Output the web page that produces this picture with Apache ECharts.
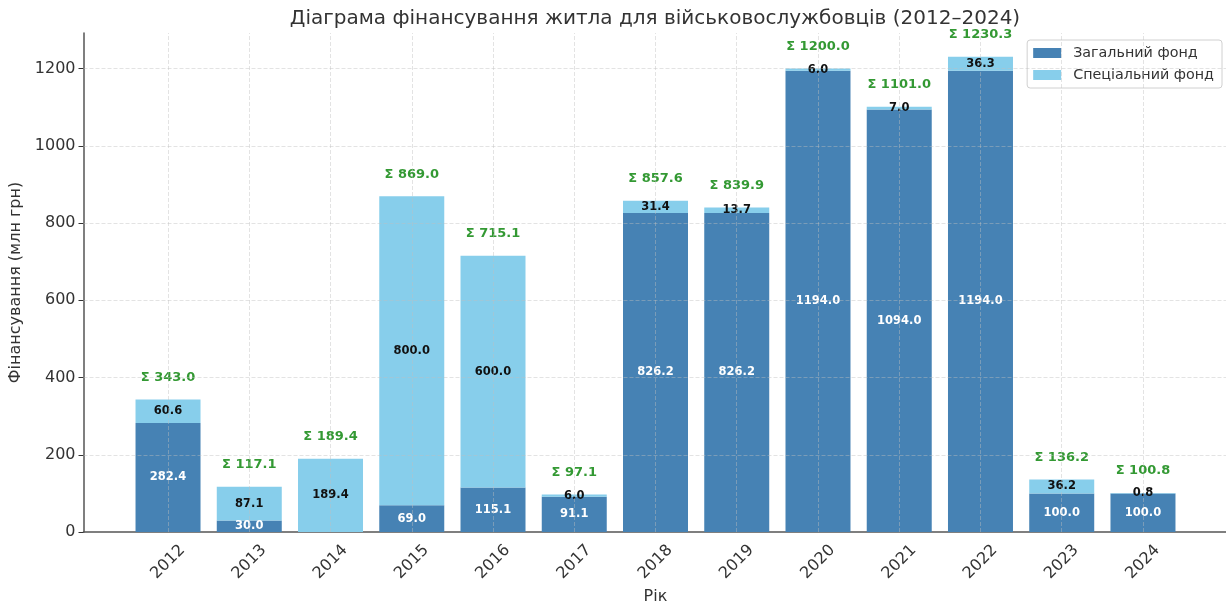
<!DOCTYPE html>
<html><head><meta charset="utf-8">
<script src="https://cdn.jsdelivr.net/npm/echarts@6/dist/echarts.min.js"></script>
<style>html,body{margin:0;padding:0;background:#fff}#c{width:1226px;height:601px}</style>
</head><body><div id="c"></div>
<script>
const years = ['2012','2013','2014','2015','2016','2017','2018','2019','2020','2021','2022','2023','2024'];
const generalFund = [282.4, 30.0, 0, 69.0, 115.1, 91.1, 826.2, 826.2, 1194.0, 1094.0, 1194.0, 100.0, 100.0];
const specialFund = [60.6, 87.1, 189.4, 800.0, 600.0, 6.0, 31.4, 13.7, 6.0, 7.0, 36.3, 36.2, 0.8];
const yTicks = [0, 200, 400, 600, 800, 1000, 1200];

const FONT = 'DejaVu Sans';
const totals = years.map((_, i) => Math.round((generalFund[i] + specialFund[i]) * 10) / 10);
const gridStyle = {type: [4, 2], color: 'rgba(190,190,190,0.55)', width: 0.8};
const YMAX = 1292;

const chart = echarts.init(document.getElementById('c'), null, {renderer: 'canvas'});
chart.setOption({
  animation: false,
  backgroundColor: '#fff',
  textStyle: {fontFamily: FONT},
  title: {
    text: 'Діаграма фінансування житла для військовослужбовців (2012–2024)',
    left: 655, textAlign: 'center', top: 9, padding: 0,
    textStyle: {fontFamily: FONT, fontSize: 20, fontWeight: 'normal', color: '#333'}
  },
  legend: {
    orient: 'vertical', right: 4, top: 40,
    data: ['Загальний фонд', 'Спеціальний фонд'],
    itemWidth: 28, itemHeight: 10, itemGap: 8,
    padding: [6, 8, 6, 6],
    borderColor: '#d0d0d0', borderWidth: 1, borderRadius: 3, backgroundColor: '#fff',
    icon: 'rect',
    textStyle: {fontFamily: FONT, fontSize: 14.3, color: '#333', padding: [0, 0, 0, 7]}
  },
  grid: [
    {left: 127.4, right: 42.4, top: 33, bottom: 69, containLabel: false, outerBoundsMode: 'none'},
    {left: 83.5, right: -1.5, top: 33, bottom: 69, containLabel: false, outerBoundsMode: 'none'}
  ],
  xAxis: [
    {
      type: 'category', gridIndex: 0, data: years, boundaryGap: true,
      name: 'Рік', nameLocation: 'middle', nameGap: 43,
      nameTextStyle: {fontFamily: FONT, fontSize: 16, color: '#333'},
      axisLine: {show: false},
      axisTick: {show: true, inside: true, length: 4, alignWithLabel: true, lineStyle: {color: '#333'}},
      axisLabel: {
        rotate: 45, align: 'center', verticalAlign: 'middle', margin: 30, interval: 0,
        fontFamily: FONT, fontSize: 16, color: '#333'
      },
      splitLine: {show: false}
    },
    {
      type: 'value', gridIndex: 1, min: 0, max: 1,
      axisLine: {show: true, onZero: false, lineStyle: {color: '#555', width: 1.5}},
      axisTick: {show: false}, axisLabel: {show: false}, splitLine: {show: false}
    }
  ],
  yAxis: [
    {
      type: 'value', gridIndex: 0, min: 0, max: YMAX, offset: 43.9,
      name: 'Фінансування (млн грн)', nameLocation: 'middle', nameGap: 55,
      nameTextStyle: {fontFamily: FONT, fontSize: 16, color: '#333'},
      axisLine: {show: true, onZero: false, lineStyle: {color: '#555', width: 1.5}},
      axisTick: {show: true, length: 5, customValues: yTicks, lineStyle: {color: '#333'}},
      axisLabel: {customValues: yTicks, margin: 8, fontFamily: FONT, fontSize: 16, color: '#333',
        formatter: v => String(v)},
      splitLine: {show: false}
    },
    {
      type: 'value', gridIndex: 1, min: 0, max: YMAX, show: false
    }
  ],
  series: [
    {
      name: 'Загальний фонд', type: 'bar', stack: 'total', barWidth: '80%',
      data: generalFund,
      itemStyle: {color: '#4682B4'},
      label: {
        show: true, position: 'inside', fontFamily: FONT, fontSize: 11.5, fontWeight: 'bold', color: '#fff',
        formatter: p => p.value > 0 ? p.value.toFixed(1) : ''
      },
      markLine: {
        silent: true, symbol: ['none', 'none'], z: 10,
        label: {show: false},
        lineStyle: gridStyle,
        data: years.map(y => ({xAxis: y}))
      }
    },
    {
      name: 'Спеціальний фонд', type: 'bar', stack: 'total', barWidth: '80%',
      data: specialFund,
      itemStyle: {color: '#87CEEB'},
      label: {
        show: true, position: 'inside', fontFamily: FONT, fontSize: 11.5, fontWeight: 'bold', color: '#111',
        formatter: p => p.value.toFixed(1)
      }
    },
    {
      name: 'sum', type: 'scatter', symbolSize: 1,
      data: totals,
      itemStyle: {color: 'rgba(0,0,0,0)'},
      silent: true,
      label: {
        show: true, position: 'top', distance: 15, fontFamily: FONT, fontSize: 13, fontWeight: 'bold', color: '#008000',
        formatter: p => 'Σ ' + p.value.toFixed(1)
      }
    },
    {
      name: 'hgrid', type: 'line', xAxisIndex: 1, yAxisIndex: 1,
      data: [[0, 0]], showSymbol: false, silent: true, lineStyle: {opacity: 0},
      markLine: {
        silent: true, symbol: ['none', 'none'], z: 10,
        label: {show: false},
        lineStyle: gridStyle,
        data: yTicks.filter(v => v > 0).map(v => ({yAxis: v}))
      }
    }
  ]
});
</script></body></html>
